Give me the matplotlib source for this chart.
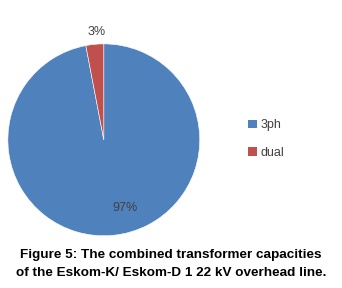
import matplotlib
matplotlib.use("Agg")
import matplotlib.pyplot as plt
from matplotlib.patches import Patch

labels = ["3ph", "dual"]
shares = [97, 3]
colors = ["#4F81BD", "#C0504D"]
caption = ["Figure 5: The combined transformer capacities",
           "of the Eskom-K/ Eskom-D 1 22 kV overhead line."]

plt.rcParams['font.family'] = ['Liberation Sans', 'DejaVu Sans']

fig = plt.figure(figsize=(3.42, 2.88), dpi=100)
ax = fig.add_axes([0.023, 0.181, 0.561, 0.667])

wedges, texts, autotexts = ax.pie(
    shares, colors=colors, startangle=90, counterclock=False,
    autopct='%1.0f%%', pctdistance=0.75,
    wedgeprops=dict(edgecolor='white', linewidth=0.4),
    textprops=dict(fontsize=9, color='#404040'))
ax.set_xlim(-1, 1)
ax.set_ylim(-1, 1)
ax.set_aspect('equal')

# move the labels roughly where Excel put them
autotexts[0].set_position((0.22, -0.71))
autotexts[1].set_position((-0.07, 1.125))

handles = [Patch(facecolor=c, edgecolor='none') for c in colors]
fig.legend(handles, labels, loc='center left', bbox_to_anchor=(0.693, 0.517),
           frameon=False, fontsize=9, handlelength=0.7, handleheight=0.7,
           handletextpad=0.3, labelspacing=1.25, labelcolor='#404040')

fig.text(0.5, 0.114, caption[0], ha='center', va='center', fontsize=9.7,
         fontweight='bold')
fig.text(0.5, 0.051, caption[1], ha='center', va='center', fontsize=9.7,
         fontweight='bold')

fig.savefig("out.png", dpi=100)
